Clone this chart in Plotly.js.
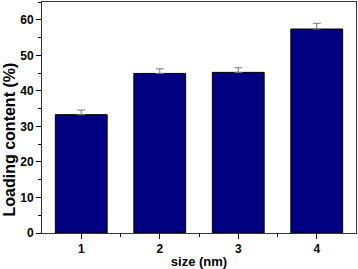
<!DOCTYPE html>
<html><head><meta charset="utf-8">
<script src="https://cdn.plot.ly/plotly-3.0.1.min.js"></script>
<style>html,body{margin:0;padding:0;background:#fff}#c{width:358px;height:269px}</style>
</head><body><div id="c"></div>
<script>
const sizes = [1, 2, 3, 4];
const loading = [33.3, 44.9, 45.2, 57.4];
const errors = [1.3, 1.3, 1.3, 1.6];
const noMinus = [0, 0, 0, 0];

const fam = 'Liberation Sans, Arial, sans-serif';
const fnt = {family: fam, size: 12, color: '#000', weight: 'bold'};
Plotly.newPlot('c', [{
  type: 'bar', x: sizes, y: loading, width: 0.66,
  marker: {color: '#000080', line: {color: '#000', width: 1}},
  error_y: {type: 'data', array: errors, arrayminus: noMinus, symmetric: false, color: '#777', thickness: 1, width: 4}
}], {
  width: 358, height: 269,
  margin: {l: 42, r: 2, t: 2, b: 36},
  paper_bgcolor: '#fff', plot_bgcolor: '#fff',
  showlegend: false,
  xaxis: {
    range: [0.5, 4.5], tickmode: 'array', tickvals: sizes, ticktext: sizes.map(String),
    ticks: 'outside', ticklen: 5, tickwidth: 1, tickcolor: '#000',
    minor: {tickmode: 'array', tickvals: [1.5, 2.5, 3.5], ticklen: 3, tickcolor: '#000', showgrid: false},
    showline: true, linecolor: '#333', linewidth: 1, mirror: true, showgrid: false, zeroline: false,
    tickfont: fnt,
    title: {text: 'size (nm)', font: {family: fam, size: 13, color: '#000', weight: 'bold'}, standoff: 3}
  },
  yaxis: {
    range: [0, 65], tickmode: 'linear', tick0: 0, dtick: 10,
    ticks: 'outside', ticklen: 5, tickwidth: 1, tickcolor: '#000',
    minor: {dtick: 5, ticklen: 3, tickcolor: '#000', showgrid: false},
    showline: true, linecolor: '#333', linewidth: 1, mirror: true, showgrid: false, zeroline: false,
    tickfont: fnt
  },
  annotations: [{
    text: 'Loading content (%)', textangle: -90, showarrow: false,
    xref: 'paper', yref: 'paper', x: -0.105, y: 0.405, xanchor: 'center', yanchor: 'middle',
    font: {family: fam, size: 16, color: '#000', weight: 'bold'}
  }]
}, {displayModeBar: false, staticPlot: true});
</script></body></html>
